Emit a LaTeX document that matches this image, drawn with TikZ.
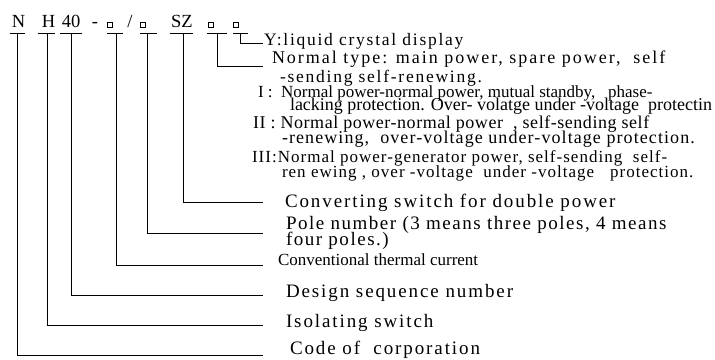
\documentclass[tikz,border=0pt]{standalone}
\usepackage{fontspec}
\setmainfont{Liberation Serif}
\newcommand{\tsz}[2]{\fontsize{#1}{#1}\selectfont\addfontfeature{LetterSpace=#2}}
\begin{document}
\begin{tikzpicture}[x=1pt,y=-1pt,line width=0.8pt,
  lbl/.style={anchor=base west,inner sep=0pt,outer sep=0pt},
  code/.style={anchor=base,inner sep=0pt,outer sep=0pt,font=\tsz{18.5}{0}},
  sq/.style={draw,line width=0.5pt,minimum size=4.5pt,inner sep=0pt,outer sep=0pt}]
\useasboundingbox (0,0) rectangle (715,359);
% ---- type code ----
\node[code] (cN) at (18.5,27) {N};
\node[code] (cH) at (48.5,27) {H};
\node[code] (c40) at (71,27) {40};
\node[code] (cdash) at (95,27) {-};
\node[sq] (s1) at (109.5,24.5) {};
\node[code] (cslash) at (130,27) {/};
\node[sq] (s2) at (142.5,24.5) {};
\node[code] (cSZ) at (182,27) {SZ};
\node[sq] (s3) at (210.5,24.5) {};
\node[sq] (s4) at (235.5,24.5) {};
% ---- bars ----
\draw (10,33) -- (25,33);
\draw (38,33) -- (55,33);
\draw (60,33) -- (82,33);
\draw (107,33) -- (123,33);
\draw (140,33) -- (157,33);
\draw (170,33) -- (193,33);
\draw (207,33) -- (227,33);
\draw (233,33) -- (248,33);
% ---- branch points ----
\coordinate (bN) at (17.5,33);
\coordinate (bH) at (47,33);
\coordinate (b40) at (71,33);
\coordinate (b1) at (116,33);
\coordinate (b2) at (147,33);
\coordinate (bSZ) at (183,33);
\coordinate (b3) at (217,33);
\coordinate (b4) at (240,33);
% ---- line ends ----
\coordinate (eY) at (263,43);
\coordinate (eNorm) at (263,66);
\coordinate (eConv) at (263,202);
\coordinate (ePole) at (263,233);
\coordinate (eCT) at (263,265);
\coordinate (eDes) at (263,295);
\coordinate (eIso) at (263,325);
\coordinate (eCode) at (263,355);
% ---- texts ----
\node[lbl,font=\tsz{17.5}{10}] (tY) at (264,45) {Y:liquid crystal display};
\node[lbl,font=\tsz{18}{11}] (tNorm) at (272,63) {Normal type: main power, spare power,\ \ self};
\node[lbl,font=\tsz{17.5}{10}] (tNorm2) at (280,82) {-sending self-renewing.};
\node[lbl,font=\tsz{17}{0}] (tI) at (258,97) {I :\ \ Normal power-normal power, mutual standby,\ \ \ phase-};
\node[lbl,font=\tsz{18}{0}] (tI2) at (290,110) {lacking protection. Over- volatge under -voltage\ \ protectin};
\node[lbl,font=\tsz{18}{3}] (tII) at (253,128) {II : Normal power-normal power\ \ , self-sending self};
\node[lbl,font=\tsz{18}{6}] (tII2) at (282,143) {-renewing,\ \ over-voltage under-voltage protection.};
\node[lbl,font=\tsz{17}{6}] (tIII) at (252,162) {III:Normal power-generator power, self-sending\ \ self-};
\node[lbl,font=\tsz{17}{6}] (tIII2) at (282,177) {ren ewing , over -voltage\ \ under -voltage\ \ \ protection.};
\node[lbl,font=\tsz{19}{10}] (tConv) at (285,207) {Converting switch for double power};
\node[lbl,font=\tsz{19}{8}] (tPole) at (286,229) {Pole number (3 means three poles, 4 means};
\node[lbl,font=\tsz{19}{8}] (tPole2) at (286,245) {four poles.)};
\node[lbl,font=\tsz{17}{0}] (tCT) at (278,265) {Conventional thermal current};
\node[lbl,font=\tsz{19}{10}] (tDes) at (286,297) {Design sequence number};
\node[lbl,font=\tsz{19}{10}] (tIso) at (286,327) {Isolating switch};
\node[lbl,font=\tsz{19}{10}] (tCode) at (290,354) {Code of\ \ corporation};
% ---- connectors ----
\draw (bN) |- (eCode);
\draw (bH) |- (eIso);
\draw (b40) |- (eDes);
\draw (b1) |- (eCT);
\draw (b2) |- (ePole);
\draw (bSZ) |- (eConv);
\draw (b3) |- (eNorm);
\draw (b4) |- (eY);
\end{tikzpicture}
\end{document}
